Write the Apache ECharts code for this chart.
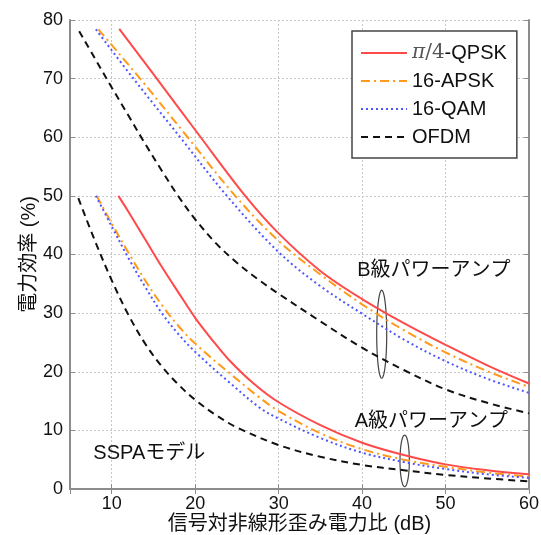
<!DOCTYPE html>
<html>
<head>
<meta charset="utf-8">
<script src="https://cdn.jsdelivr.net/npm/echarts@6/dist/echarts.min.js"></script>
<style>
  html, body { margin: 0; padding: 0; background: #fff; }
  #chart { width: 541px; height: 535px; }
</style>
</head>
<body>
<div id="chart"></div>
<script>
// legend names
const names = ['π/4-QPSK', '16-APSK', '16-QAM', 'OFDM'];

// B級 (upper) curves: [信号対非線形歪み電力比 dB, 電力効率 %]
const qpskB = [[10.9, 78.5], [15.4, 70], [20.5, 60.3], [26, 50], [30, 43.6], [35, 37.2], [40, 32.4], [45, 28.3], [50, 24.6], [55, 21.1], [60, 18]];
const apskB = [[8.4, 78.4], [13.4, 70], [19.1, 60], [24.8, 50], [30, 42.3], [35, 36.6], [40, 31.5], [45, 27.1], [50, 23.3], [55, 20.1], [60, 17.4]];
const qamB = [[8.1, 78.4], [12.6, 70], [18.2, 60], [23.8, 50], [30, 40.4], [35, 34.6], [40, 29.9], [45, 25.5], [50, 21.8], [55, 18.8], [60, 16.4]];
const ofdmB = [[6.1, 78.1], [8, 73.4], [10, 68.5], [12, 63.7], [14, 58.9], [16, 54.3], [18, 49.9], [20, 46], [22.5, 41.9], [25, 38.6], [27.5, 35.8], [30, 33.3], [35, 28.6], [40, 24.1], [45, 20.3], [50, 17], [55, 14.7], [60, 12.9]];

// A級 (lower) curves
const qpskA = [[10.8, 50], [12, 47.3], [14, 42.6], [16, 37.9], [18, 33.5], [20, 29.2], [22, 25.5], [24, 22.1], [27, 18], [30, 14.8], [35, 10.9], [40, 7.9], [45, 5.8], [50, 4.2], [55, 3.2], [60, 2.5]];
const apskA = [[8.2, 50], [10, 45.3], [12, 40.3], [14, 35.6], [16, 31.4], [18, 27.8], [20, 24.8], [24, 19.9], [27.8, 15.5], [30, 13.3], [35, 9.5], [40, 6.8], [45, 5], [50, 3.8], [55, 2.8], [60, 2.1]];
const qamA = [[8.1, 50], [10, 44.8], [12, 39.4], [14, 34.5], [16, 30], [18, 26.4], [20, 23.4], [24, 18.3], [27.8, 13.8], [30, 12], [35, 8.7], [40, 6.2], [45, 4.6], [50, 3.4], [55, 2.5], [60, 1.9]];
const ofdmA = [[6, 49.6], [8, 42.3], [10, 35.6], [12, 29.7], [14, 24.8], [16, 20.9], [18, 17.8], [20, 15.2], [22.5, 12.6], [25, 10.5], [30, 7.5], [35, 5.5], [40, 4.1], [45, 3.2], [50, 2.4], [55, 1.8], [60, 1.3]];

// annotations
const noteText = ['B級パワーアンプ', 'A級パワーアンプ', 'SSPAモデル'];
const notePos = [[48.6, 37.2], [48.3, 11.6], [14.5, 6.1]];
// ellipses: [cx, cy, rx, ry] in data units
const ellipses = [[42.35, 26.4, 0.6, 7.5], [45.1, 4.8, 0.56, 4.4]];

const FONT = "'Liberation Sans', 'Noto Sans CJK JP', sans-serif";
const styles = {
  'π/4-QPSK': { color: '#ff4a4a', type: 'solid' },
  '16-APSK': { color: '#ff9a1a', type: [9, 4, 2, 4] },
  '16-QAM': { color: '#4f55ff', type: [2, 3] },
  'OFDM': { color: '#111', type: [7, 5] }
};

function curve(name, data) {
  return {
    name: name,
    type: 'line',
    data: data,
    symbol: 'none',
    smooth: 0.35,
    color: styles[name].color,
    lineStyle: { width: 2, color: styles[name].color, type: styles[name].type }
  };
}

const chart = echarts.init(document.getElementById('chart'));

const option = {
  backgroundColor: '#fff',
  animation: false,
  textStyle: { fontFamily: FONT },
  grid: { left: 70, right: 12, top: 20, bottom: 46, containLabel: false, outerBoundsMode: 'none' },
  legend: {
    data: names,
    orient: 'vertical',
    left: 352,
    top: 31,
    width: 166,
    backgroundColor: '#fff',
    borderColor: '#444',
    borderWidth: 1.5,
    borderRadius: 0,
    padding: [12, 10, 11, 8],
    itemWidth: 46,
    itemHeight: 17,
    itemGap: 8,
    itemStyle: { opacity: 0 },
    textStyle: {
      fontSize: 20,
      color: '#111',
      fontFamily: FONT,
      rich: {
        m: { fontSize: 20, fontFamily: "'DejaVu Serif', serif", fontStyle: 'italic', color: '#555' },
        n: { fontSize: 20, fontFamily: "'DejaVu Serif', serif", color: '#555' }
      }
    },
    formatter: function (name) {
      if (name === 'π/4-QPSK') return '{m|π}{n|/4}-QPSK';
      return name;
    }
  },
  xAxis: [
    {
      type: 'value',
      min: 5,
      max: 60,
      minInterval: 10,
      maxInterval: 10,
      name: '信号対非線形歪み電力比 (dB)',
      nameLocation: 'middle',
      nameGap: 25,
      nameMoveOverlap: false,
      nameTextStyle: { fontSize: 20, color: '#111', fontFamily: FONT },
      axisLine: { show: true, lineStyle: { color: '#8c8c8c', width: 2 } },
      axisTick: { show: true, inside: true, length: 5, lineStyle: { color: '#8c8c8c' } },
      axisLabel: { showMinLabel: false, fontSize: 18, color: '#111', margin: 6 },
      splitLine: { show: true, lineStyle: { color: '#c8c8c8', type: [2, 2], width: 1 } }
    },
    {
      type: 'value',
      position: 'top',
      min: 5,
      max: 60,
      minInterval: 10,
      maxInterval: 10,
      axisLine: { show: true, lineStyle: { color: '#8c8c8c', width: 2 } },
      axisTick: { show: true, inside: true, length: 5, lineStyle: { color: '#8c8c8c' } },
      axisLabel: { show: false },
      splitLine: { show: false }
    }
  ],
  yAxis: [
    {
      type: 'value',
      min: 0,
      max: 80,
      interval: 10,
      name: '電力効率 (%)',
      nameLocation: 'middle',
      nameGap: 31,
      nameMoveOverlap: false,
      nameTextStyle: { fontSize: 20, color: '#111', fontFamily: FONT },
      axisLine: { show: true, lineStyle: { color: '#8c8c8c', width: 2 } },
      axisTick: { show: true, inside: true, length: 5, lineStyle: { color: '#8c8c8c' } },
      axisLabel: { fontSize: 18, color: '#111', margin: 7 },
      splitLine: { show: true, lineStyle: { color: '#c8c8c8', type: [2, 2], width: 1 } }
    },
    {
      type: 'value',
      position: 'right',
      min: 0,
      max: 80,
      interval: 10,
      axisLine: { show: true, lineStyle: { color: '#8c8c8c', width: 2 } },
      axisTick: { show: true, inside: true, length: 5, lineStyle: { color: '#8c8c8c' } },
      axisLabel: { show: false },
      splitLine: { show: false }
    }
  ],
  series: [
    curve('π/4-QPSK', qpskB),
    curve('16-APSK', apskB),
    curve('16-QAM', qamB),
    curve('OFDM', ofdmB),
    curve('π/4-QPSK', qpskA),
    curve('16-APSK', apskA),
    curve('16-QAM', qamA),
    curve('OFDM', ofdmA),
    {
      type: 'custom',
      data: ellipses,
      silent: true,
      renderItem: function (params, api) {
        const c = api.coord([api.value(0), api.value(1)]);
        const r = api.size([api.value(2), api.value(3)]);
        const pts = [];
        for (let i = 0; i < 60; i++) {
          const t = i / 60 * Math.PI * 2;
          pts.push([c[0] + r[0] * Math.cos(t), c[1] + r[1] * Math.sin(t)]);
        }
        return {
          type: 'polygon',
          shape: { points: pts },
          style: { fill: 'none', stroke: '#444', lineWidth: 1.2 }
        };
      }
    },
    {
      type: 'custom',
      data: notePos,
      silent: true,
      renderItem: function (params, api) {
        const p = api.coord([api.value(0), api.value(1)]);
        return {
          type: 'text',
          x: p[0],
          y: p[1],
          style: {
            text: noteText[params.dataIndex],
            font: '20px ' + FONT,
            fill: '#111',
            align: 'center',
            verticalAlign: 'middle'
          }
        };
      }
    }
  ]
};

chart.setOption(option);
</script>
</body>
</html>
